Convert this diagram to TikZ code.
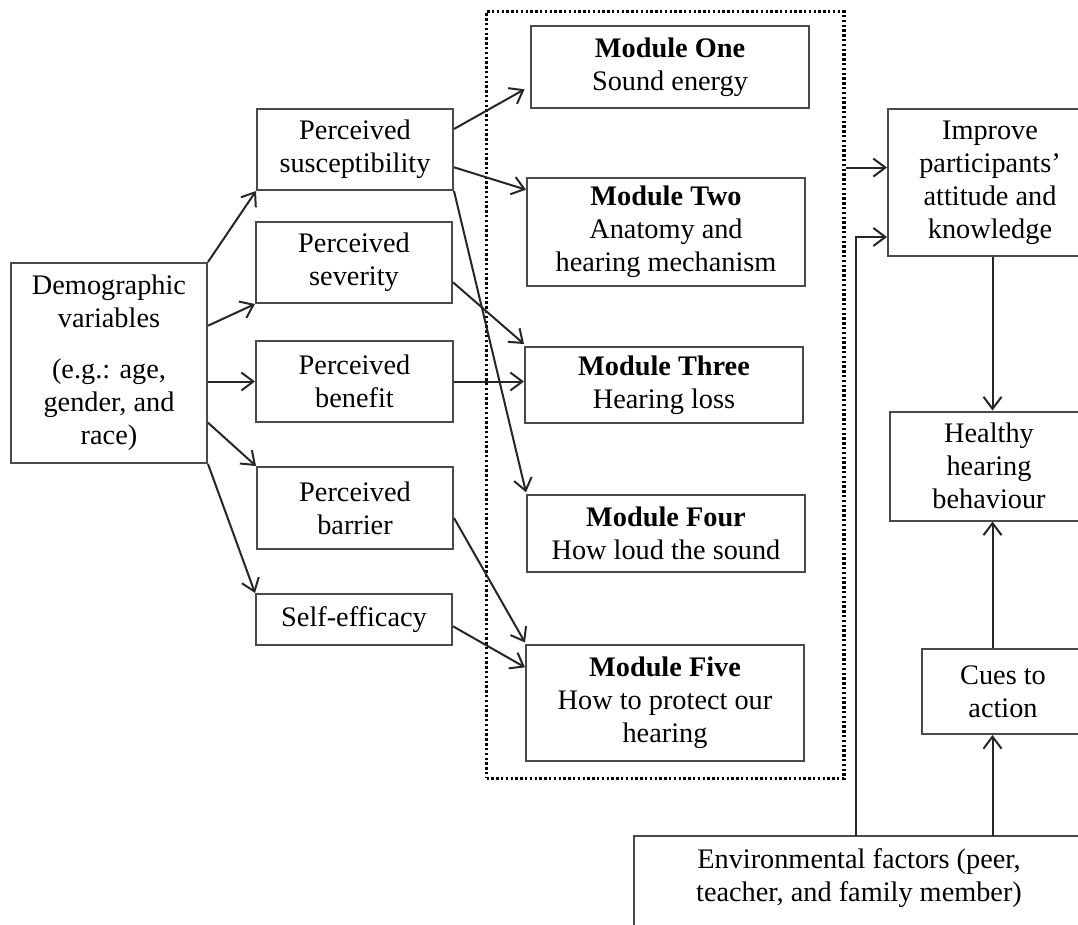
\documentclass[tikz,border=0pt]{standalone}
\usepackage{fontspec}
\setmainfont{Liberation Serif}
\usetikzlibrary{arrows.meta}
\definecolor{boxgray}{HTML}{4A4A4A}
\definecolor{linegray}{HTML}{262626}
\begin{document}
\begin{tikzpicture}[x=1pt,y=-1pt,
  box/.style={draw=boxgray,line width=2pt,inner sep=0pt,align=center,
    font=\fontsize{28.3}{33}\selectfont},
  plain/.style={inner sep=0pt,align=center,font=\fontsize{28.3}{33}\selectfont},
  arr/.style={draw=linegray,line width=2pt,
    -{Straight Barb[length=12pt,width=18pt,line width=2pt]}},
  grpbox/.style={draw=black,line width=3.4pt,dash pattern=on 2.4pt off 2.4pt,inner sep=0pt}]
\useasboundingbox (0,0) rectangle (1078,924);
\clip (0,0) rectangle (1078,924);
\fill[white] (0,0) rectangle (1078,924);

% left column
\node[box,minimum width=196pt,minimum height=200pt] (demo) at (109,363)
  {Demographic\\variables\\[18pt](e.g.: age,\\gender, and\\race)};
\node[box,minimum width=196pt,minimum height=81pt] (susc) at (355,149.5)
  {Perceived\\susceptibility};
\node[box,minimum width=196pt,minimum height=81pt] (sev) at (354,262.5)
  {Perceived\\severity};
\node[box,minimum width=197pt,minimum height=81pt] (ben) at (354.5,381.5)
  {Perceived\\benefit};
\node[box,minimum width=196pt,minimum height=82pt] (bar) at (355,508)
  {Perceived\\barrier};
\node[box,minimum width=196pt,minimum height=51pt] (self) at (354,619.5)
  {Self-efficacy};

% modules group
\node[grpbox,minimum width=357.4pt,minimum height=766.6pt] (grp) at (665.3,395) {};
\node[box,minimum width=278pt,minimum height=82pt] (m1) at (670,67)
  {\textbf{Module One}\\Sound energy};
\node[box,minimum width=278pt,minimum height=108pt] (m2) at (666,232)
  {\textbf{Module Two}\\Anatomy and\\hearing mechanism};
\node[box,minimum width=278pt,minimum height=76pt] (m3) at (664,385)
  {\textbf{Module Three}\\Hearing loss};
\node[box,minimum width=278pt,minimum height=77pt] (m4) at (666,533.5)
  {\textbf{Module Four}\\How loud the sound};
\node[box,minimum width=278pt,minimum height=116pt] (m5) at (665,703)
  {\textbf{Module Five}\\How to protect our\\hearing};

% right column
\node[box,minimum width=204pt,minimum height=147pt] (imp) at (990,182.5)
  {Improve\\participants’\\attitude and\\knowledge};
\node[box,minimum width=198pt,minimum height=109pt] (hea) at (989,466)
  {Healthy\\hearing\\behaviour};
\node[box,minimum width=162pt,minimum height=85pt] (cue) at (1003,691.5)
  {Cues to\\action};
\node[plain,minimum width=450pt,minimum height=84pt] (env) at (859,878)
  {Environmental factors (peer,\\teacher, and family member)};
\draw[draw=boxgray,line width=2pt] (env.north west) rectangle ([yshift=-40pt]env.south east);

% demographic arrows
\draw[arr] (demo.north east) -- (susc.south west);
\draw[arr] ([yshift=-63.7pt]demo.north east) -- (sev.south west);
\draw[arr] (demo.east |- ben.west) -- (ben.west);
\draw[arr] ([yshift=41.3pt]demo.south east) -- (bar.north west);
\draw[arr] (demo.south east) -- (self.north west);

% construct -> module arrows
\draw[arr] ([yshift=-21pt]susc.north east) -- ([xshift=-5.5pt,yshift=-22.3pt]m1.west);
\draw[arr] ([yshift=-59.3pt]susc.north east) -- ([yshift=-12.7pt]m2.north west);
\draw[arr] (susc.south east) -- ([yshift=1.7pt]m4.north west);
\draw[arr] ([yshift=-61.3pt]sev.north east) -- ([yshift=2pt]m3.north west);
\draw[arr] (ben.east) -- (m3.west |- ben.east);
\draw[arr] ([yshift=-52pt]bar.north east) -- ([yshift=1.5pt]m5.north west);
\draw[arr] ([yshift=-33.3pt]self.north east) -- ([yshift=-23.3pt]m5.north west);

% right side
\coordinate (g1) at ([yshift=-157.6pt]grp.north east);
\draw[arr] (g1) -- (g1 -| imp.west);
\draw[arr] ([xshift=-2.8pt]env.north) |- ([yshift=20pt]imp.south west);
\draw[arr] ([xshift=2.5pt]imp.south) -- ([xshift=2.5pt]imp.south |- hea.north);
\draw[arr] ([xshift=-10.5pt]cue.north) -- ([xshift=-10.5pt]cue.north |- hea.south);
\draw[arr] ([xshift=133.5pt]env.north) -- ([xshift=133.5pt]env.north |- cue.south);
\end{tikzpicture}
\end{document}
